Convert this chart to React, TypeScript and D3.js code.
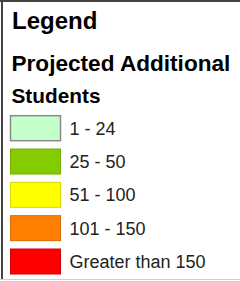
import React, { useEffect, useRef } from "react";
import * as d3 from "d3";

const title = "Legend";
const subtitleLines = ["Projected Additional", "Students"];
const classLabels = ["1 - 24", "25 - 50", "51 - 100", "101 - 150", "Greater than 150"];
const classColors = ["#c4ffcc", "#84cc00", "#ffff00", "#ff8000", "#ff0000"];
const classStrokes = ["#8a8a8a", "#6fae00", "#d8d800", "#d86c00", "#d80000"];

const W = 240;
const H = 281;

const App = () => {
  const ref = useRef<SVGSVGElement>(null);

  useEffect(() => {
    const svg = d3.select(ref.current);
    svg.selectAll("*").remove();
    const font = "'Liberation Sans', Arial, sans-serif";

    svg.append("rect").attr("width", W).attr("height", H).attr("fill", "#fff");

    // frame: dark top & left, light bottom
    svg.append("line").attr("x1", 0).attr("x2", W).attr("y1", 1).attr("y2", 1)
      .attr("stroke", "#444").attr("stroke-width", 2);
    svg.append("line").attr("x1", 2).attr("x2", 2).attr("y1", 0).attr("y2", H - 2)
      .attr("stroke", "#444").attr("stroke-width", 2);
    svg.append("line").attr("x1", 0).attr("x2", W).attr("y1", H - 1.5).attr("y2", H - 1.5)
      .attr("stroke", "#cfcfcf").attr("stroke-width", 1);

    svg.append("text")
      .attr("x", 12).attr("y", 29)
      .attr("font-family", font).attr("font-weight", "bold").attr("font-size", 24)
      .attr("fill", "#000")
      .text(title);

    svg.selectAll("text.sub")
      .data(subtitleLines)
      .enter()
      .append("text")
      .attr("class", "sub")
      .attr("x", 11.5)
      .attr("y", (d, i) => 71.3 + i * 32)
      .attr("font-family", font).attr("font-weight", "bold")
      .attr("font-size", (d, i) => (i === 0 ? 22.6 : 20.8))
      .attr("fill", "#000")
      .text(d => d);

    const yScale = d3.scaleBand<string>()
      .domain(classLabels)
      .range([115.7, 274])
      .paddingInner(0.25)
      .paddingOuter(0);

    const rows = svg.selectAll("g.row")
      .data(classLabels)
      .enter()
      .append("g")
      .attr("class", "row")
      .attr("transform", d => `translate(0, ${yScale(d)})`);

    rows.append("rect")
      .attr("x", 10.5)
      .attr("y", 0)
      .attr("width", 50)
      .attr("height", yScale.bandwidth())
      .attr("fill", (d, i) => classColors[i])
      .attr("stroke", (d, i) => classStrokes[i])
      .attr("stroke-width", (d, i) => (i === 0 ? 1.5 : 1));

    rows.append("text")
      .attr("x", 69.5)
      .attr("y", yScale.bandwidth() / 2 + 6.5)
      .attr("font-family", font)
      .attr("font-size", 18)
      .attr("fill", "#222")
      .text(d => d);
  }, []);

  return (
    <div style={{ position: "fixed", left: 0, top: 0 }}>
      <svg ref={ref} width={W} height={H} style={{ display: "block" }}></svg>
    </div>
  );
};

export default App;
